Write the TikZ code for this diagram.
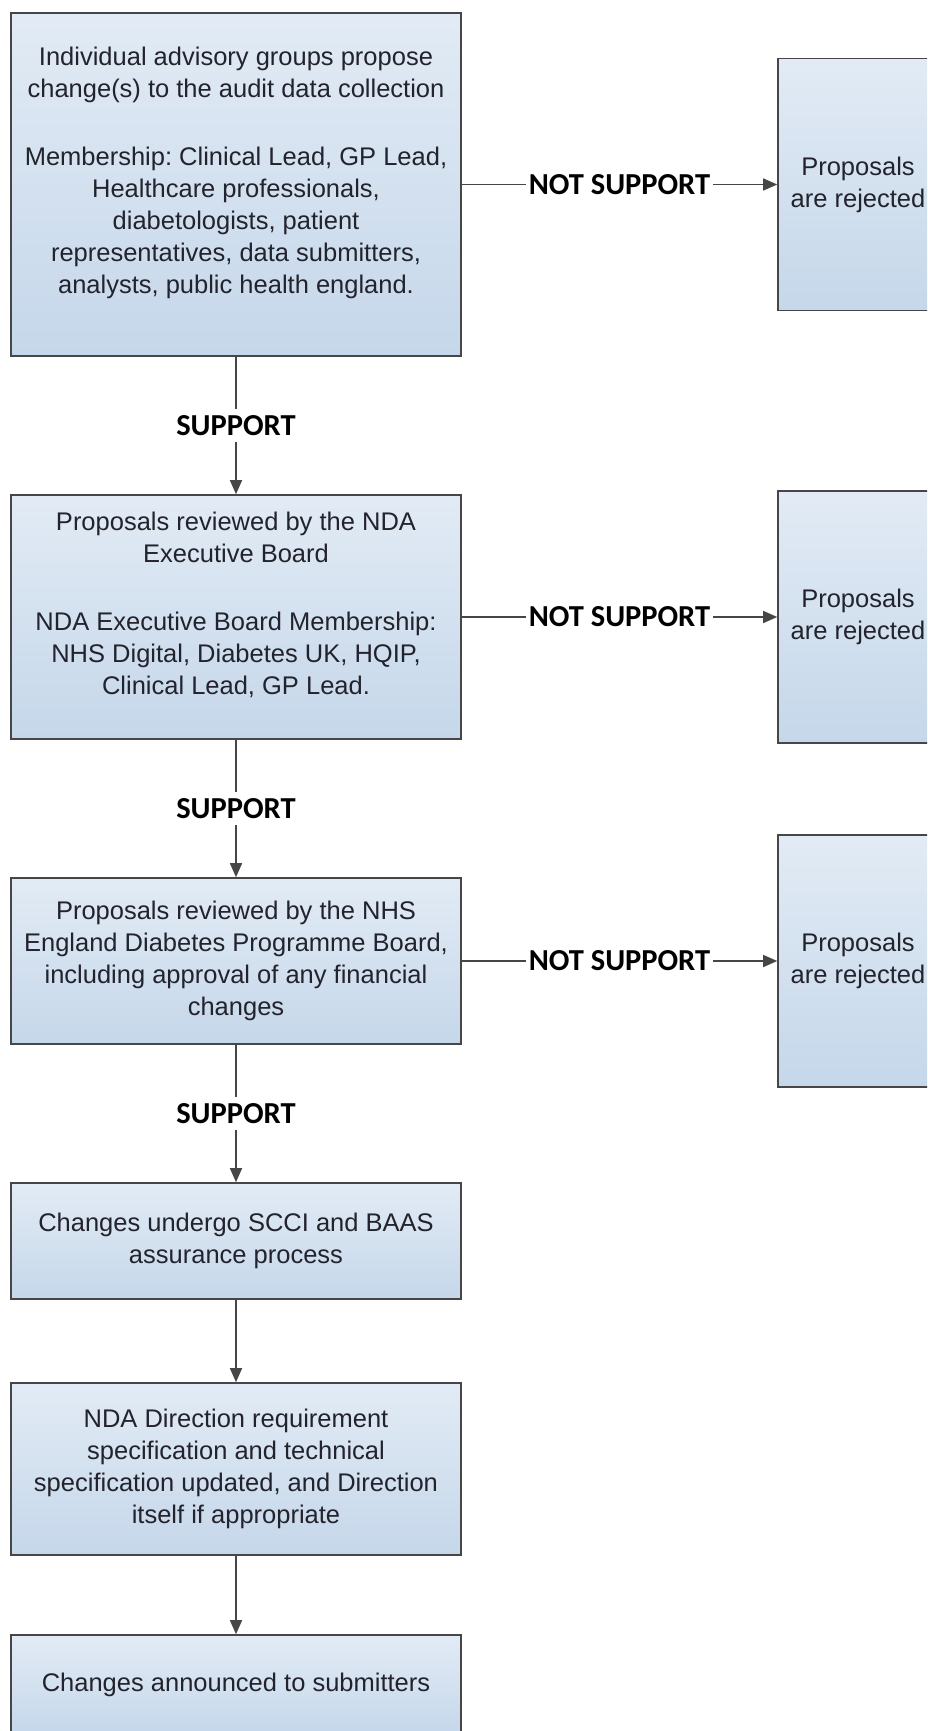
\documentclass[tikz,border=0pt]{standalone}
\usepackage{fontspec}
\setmainfont{Liberation Sans}
\newfontfamily\labelfont{Carlito}
\usetikzlibrary{arrows.meta}
\definecolor{boxtop}{RGB}{226,235,245}
\definecolor{boxbot}{RGB}{197,215,234}
\definecolor{edge}{RGB}{70,70,70}
\definecolor{txt}{RGB}{35,35,45}
\frenchspacing
\begin{document}
\begin{tikzpicture}[x=1pt,y=-1pt,
    stage/.style={draw=edge,line width=1.6pt,top color=boxtop,bottom color=boxbot,text=txt,
        align=center,font=\fontsize{25.5}{32}\selectfont,minimum width=450pt,inner sep=0pt},
    reject/.style={stage,minimum width=160pt,minimum height=252pt},
    flow/.style={draw=edge,line width=1.4pt,-{Triangle[length=14pt,width=12pt]}},
    decision/.style={fill=white,text=black,font=\labelfont\bfseries\fontsize{30.5}{32}\selectfont,
        inner xsep=3pt,inner ysep=6pt}]
    \clip (0,0) rectangle (927,1731);
    \fill[white] (0,0) rectangle (927,1731);

    \node[stage,minimum height=343pt] (b1) at (236,184.5) {Individual advisory groups propose\\change(s) to the audit data collection\\[36pt]
        Membership: Clinical Lead, GP Lead,\\Healthcare professionals,\\diabetologists, patient\\representatives, data submitters,\\analysts, public health england.\\[-4pt]\mbox{}};
    \node[stage,minimum height=244pt] (b2) at (236,617) {Proposals reviewed by the NDA\\Executive Board\\[36pt]
        NDA Executive Board Membership:\\NHS Digital, Diabetes UK, HQIP,\\Clinical Lead, GP Lead.\\[-4pt]\mbox{}};
    \node[stage,minimum height=166pt] (b3) at (236,961) {Proposals reviewed by the NHS\\England Diabetes Programme Board,\\including approval of any financial\\changes};
    \node[stage,minimum height=116pt] (b4) at (236,1241) {Changes undergo SCCI and BAAS\\assurance process};
    \node[stage,minimum height=172pt] (b5) at (236,1469) {NDA Direction requirement\\specification and technical\\specification updated, and Direction\\itself if appropriate};
    \node[stage,minimum height=100pt] (b6) at (236,1685) {Changes announced to submitters};

    \node[reject] (r1) at (858,184.5) {Proposals\\are rejected};
    \node[reject] (r2) at (858,617) {Proposals\\are rejected};
    \node[reject] (r3) at (858,961) {Proposals\\are rejected};

    \draw[flow] (b1) -- node[decision] {SUPPORT} (b2);
    \draw[flow] (b2) -- node[decision] {SUPPORT} (b3);
    \draw[flow] (b3) -- node[decision] {SUPPORT} (b4);
    \draw[flow] (b4) -- (b5);
    \draw[flow] (b5) -- (b6);

    \draw[flow] (b1) -- node[decision] {NOT SUPPORT} (r1);
    \draw[flow] (b2) -- node[decision] {NOT SUPPORT} (r2);
    \draw[flow] (b3) -- node[decision] {NOT SUPPORT} (r3);
\end{tikzpicture}
\end{document}
